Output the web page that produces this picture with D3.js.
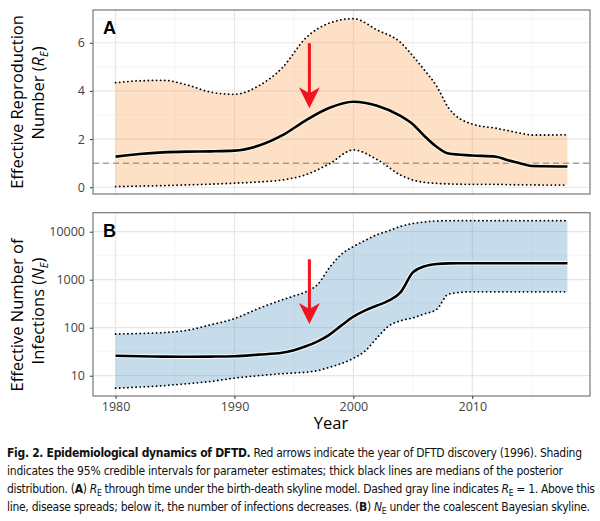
<!DOCTYPE html>
<html>
<head>
<meta charset="utf-8">
<script src="https://cdn.jsdelivr.net/npm/d3@7"></script>
<style>
  body { margin: 0; background: #fff; }
  .tick text { font-family: "Open Sans", sans-serif; font-size: 12.5px; fill: #444; }
  .tick line { stroke: #333; }
  .ytitle { font-family: "Open Sans", sans-serif; font-size: 16.5px; fill: #000; }
  .caption { font-family: "Liberation Sans Narrow", "DejaVu Sans Condensed", sans-serif; font-size: 12px; fill: #111; }
</style>
</head>
<body>
<div id="chart"></div>
<script>
// panel A: R_E (birth-death skyline)
var yearsA = [1980, 1982, 1984, 1986, 1988, 1990, 1992, 1994, 1996, 1998, 2000, 2002, 2004, 2005, 2006, 2007, 2008, 2010, 2012, 2013, 2014, 2015, 2016, 2018];
var reMedian = [1.27, 1.38, 1.45, 1.48, 1.49, 1.52, 1.72, 2.15, 2.78, 3.3, 3.55, 3.38, 2.95, 2.62, 2.12, 1.68, 1.4, 1.32, 1.27, 1.12, 1.0, 0.88, 0.87, 0.86];
var reUpper  = [4.34, 4.42, 4.44, 4.25, 3.95, 3.86, 4.2, 4.95, 6.2, 6.82, 7.0, 6.53, 6.0, 5.45, 4.85, 4.2, 3.3, 2.62, 2.45, 2.35, 2.25, 2.17, 2.17, 2.18];
var reLower  = [0.03, 0.05, 0.07, 0.1, 0.13, 0.17, 0.22, 0.3, 0.52, 0.98, 1.55, 1.15, 0.5, 0.3, 0.2, 0.16, 0.14, 0.12, 0.12, 0.11, 0.1, 0.1, 0.09, 0.09];

// panel B: N_E (coalescent Bayesian skyline)
var yearsB = [1980, 1982, 1984, 1986, 1988, 1990, 1992, 1994, 1995, 1996, 1997, 1998, 1999, 2000, 2001, 2002, 2003, 2004, 2005, 2006, 2007, 2008, 2010, 2014, 2018];
var neMedian = [26, 25.5, 25, 24.8, 25, 25.5, 27.5, 30, 34, 41, 52, 72, 112, 170, 230, 290, 370, 560, 1420, 1900, 2120, 2190, 2200, 2200, 2200];
var neUpper  = [74, 76, 79, 88, 115, 155, 250, 380, 460, 560, 800, 1800, 3400, 4900, 6600, 8700, 10500, 13000, 14800, 16000, 16800, 17000, 17000, 17000, 17000];
var neLower  = [5.5, 5.8, 6.2, 6.8, 7.6, 8.9, 10, 11, 11.4, 11.8, 12.8, 15, 18, 23, 33, 62, 110, 140, 160, 195, 240, 500, 560, 560, 560];

// discovery year arrows (year, from, to)
var arrowYear = 1996.3;
var arrowA = [5.98, 3.28];
var arrowB = [2660, 119];
var threshold = 1;

var xMajor = [1980, 1990, 2000, 2010];
var xMinor = [1985, 1995, 2005, 2015];
var yMajorA = [0, 2, 4, 6];
var yMinorA = [1, 3, 5, 7];
var yMajorB = [10, 100, 1000, 10000];
var yMinorB = [Math.pow(10, 1.5), Math.pow(10, 2.5), Math.pow(10, 3.5)];

var W = 600, H = 521;
var left = 93, right = 590;
var topA = 10, botA = 194, topB = 212.7, botB = 396;

var svg = d3.select("#chart").append("svg")
    .attr("width", W)
    .attr("height", H);

svg.append("rect").attr("width", W).attr("height", H).attr("fill", "#fff");

var x = d3.scaleLinear().domain([1978.1, 2019.9]).range([left, right]);
var yA = d3.scaleLinear().domain([-0.28, 7.36]).range([botA, topA]);
var yB = d3.scaleLog().domain([3.78, 24900]).range([botB, topB]);

function rows(years, med, lo, hi) {
    return years.map(function(y, i) {
        return {year: y, med: med[i], lo: lo[i], hi: hi[i]};
    });
}

function drawPanel(data, y, top, bot, fill, yTicks, yMinor, fmt) {
    var g = svg.append("g");

    // grid
    g.selectAll(".gminx").data(xMinor).enter().append("line")
        .attr("x1", x).attr("x2", x).attr("y1", top).attr("y2", bot)
        .attr("stroke", "#f3f3f3").attr("stroke-width", 0.8);
    g.selectAll(".gminy").data(yMinor).enter().append("line")
        .attr("x1", left).attr("x2", right).attr("y1", y).attr("y2", y)
        .attr("stroke", "#f3f3f3").attr("stroke-width", 0.8);
    g.selectAll(".gmajx").data(xMajor).enter().append("line")
        .attr("x1", x).attr("x2", x).attr("y1", top).attr("y2", bot)
        .attr("stroke", "#e6e6e6").attr("stroke-width", 1.2);
    g.selectAll(".gmajy").data(yTicks).enter().append("line")
        .attr("x1", left).attr("x2", right).attr("y1", y).attr("y2", y)
        .attr("stroke", "#e6e6e6").attr("stroke-width", 1.2);

    // credible interval
    var area = d3.area()
        .x(function(d){ return x(d.year); })
        .y0(function(d){ return y(d.lo); })
        .y1(function(d){ return y(d.hi); })
        .curve(d3.curveMonotoneX);
    g.append("path").datum(data)
        .attr("d", area)
        .attr("fill", fill)
        .attr("fill-opacity", 0.35);

    ["lo", "hi"].forEach(function(k){
        var ln = d3.line()
            .x(function(d){ return x(d.year); })
            .y(function(d){ return y(d[k]); })
            .curve(d3.curveMonotoneX);
        g.append("path").datum(data)
            .attr("d", ln)
            .attr("fill", "none")
            .attr("stroke", "#000")
            .attr("stroke-width", 1.8)
            .attr("stroke-linecap", "round")
            .attr("stroke-dasharray", "0.1,4");
    });

    // axis
    var yAxis = d3.axisLeft(y).tickValues(yTicks).tickSize(3).tickPadding(5).tickFormat(fmt);
    g.append("g")
        .attr("transform", "translate(" + left + ",0)")
        .call(yAxis)
        .call(function(s){ s.select(".domain").remove(); });

    return g;
}

function drawMedian(g, data, y, halo) {
    var ln = d3.line()
        .x(function(d){ return x(d.year); })
        .y(function(d){ return y(d.med); })
        .curve(d3.curveMonotoneX);
    g.append("path").datum(data)
        .attr("d", ln).attr("fill", "none")
        .attr("stroke", halo).attr("stroke-width", 4.6);
    g.append("path").datum(data)
        .attr("d", ln).attr("fill", "none")
        .attr("stroke", "#000").attr("stroke-width", 2.6);
}

function drawArrow(g, y, vals) {
    var ax = x(arrowYear), y0 = y(vals[0]), y1 = y(vals[1]);
    g.append("line")
        .attr("x1", ax).attr("x2", ax)
        .attr("y1", y0).attr("y2", y1 - 12)
        .attr("stroke", "#f0141e").attr("stroke-width", 3);
    g.append("path")
        .attr("d", "M" + ax + "," + y1 + "L" + (ax - 10.5) + "," + (y1 - 21) +
             "L" + ax + "," + (y1 - 15) + "L" + (ax + 10.5) + "," + (y1 - 21) + "Z")
        .attr("fill", "#f0141e");
}

function border(top, bot) {
    svg.append("rect")
        .attr("x", left).attr("y", top)
        .attr("width", right - left).attr("height", bot - top)
        .attr("fill", "none").attr("stroke", "#6b6b6b").attr("stroke-width", 1.1);
}

// ---- panel A
var dataA = rows(yearsA, reMedian, reLower, reUpper);
var gA = drawPanel(dataA, yA, topA, botA, "#f9a65a", yMajorA, yMinorA, d3.format("d"));
gA.append("line")
    .attr("x1", left).attr("x2", right)
    .attr("y1", yA(threshold)).attr("y2", yA(threshold))
    .attr("stroke", "#7a7a7a").attr("stroke-width", 1)
    .attr("stroke-dasharray", "6,4");
drawMedian(gA, dataA, yA, "#fff6dc");
drawArrow(gA, yA, arrowA);
border(topA, botA);

// ---- panel B
var dataB = rows(yearsB, neMedian, neLower, neUpper);
var gB = drawPanel(dataB, yB, topB, botB, "#5b9bc3", yMajorB, yMinorB, d3.format("d"));
drawMedian(gB, dataB, yB, "#f2fbff");
drawArrow(gB, yB, arrowB);
border(topB, botB);

// x axis
var xAxis = d3.axisBottom(x).tickValues(xMajor).tickSize(3).tickPadding(3).tickFormat(d3.format("d"));
svg.append("g")
    .attr("transform", "translate(0," + botB + ")")
    .call(xAxis)
    .call(function(s){ s.select(".domain").remove(); });

// x title
svg.append("text")
    .attr("class", "ytitle")
    .attr("x", 331).attr("y", 429)
    .attr("text-anchor", "middle")
    .text("Year");

// panel letters
[["A", 34], ["B", 237]].forEach(function(p){
    svg.append("text")
        .attr("x", 103).attr("y", p[1])
        .attr("font-family", "Liberation Sans, Arial, sans-serif")
        .attr("font-weight", "bold")
        .attr("font-size", 18)
        .text(p[0]);
});

// rotated y titles
function yTitle(cx, cy, parts) {
    var t = svg.append("text")
        .attr("class", "ytitle")
        .attr("transform", "translate(" + cx + "," + cy + ") rotate(-90)")
        .attr("text-anchor", "middle")
        .attr("dy", "0.35em");
    parts.forEach(function(p){
        var s = t.append("tspan").text(p.t);
        if (p.i) s.attr("font-style", "italic");
        if (p.sub) s.attr("font-size", 11).attr("dy", 4);
        if (p.up) s.attr("dy", -4);
    });
}
yTitle(17, 102, [{t: "Effective Reproduction"}]);
yTitle(38, 93, [{t: "Number ("}, {t: "R", i: true}, {t: "E", i: true, sub: true}, {t: ")", up: true}]);
yTitle(17, 315, [{t: "Effective Number of"}]);
yTitle(38, 311, [{t: "Infections ("}, {t: "N", i: true}, {t: "E", i: true, sub: true}, {t: ")", up: true}]);

// caption
var capLines = [
    {y: 457, w: 575, parts: [{t: "Fig. 2. Epidemiological dynamics of DFTD.", b: true}, {t: " Red arrows indicate the year of DFTD discovery (1996). Shading"}]},
    {y: 475, w: 556, parts: [{t: "indicates the 95% credible intervals for parameter estimates; thick black lines are medians of the posterior"}]},
    {y: 493, w: 588, parts: [{t: "distribution. ("}, {t: "A", b: true}, {t: ") "}, {t: "R", i: true}, {t: "E", sub: true},
        {t: " through time under the birth-death skyline model. Dashed gray line indicates ", up: true}, {t: "R", i: true}, {t: "E", sub: true}, {t: " = 1. Above this", up: true}]},
    {y: 511, w: 583, parts: [{t: "line, disease spreads; below it, the number of infections decreases. ("}, {t: "B", b: true}, {t: ") "}, {t: "N", i: true}, {t: "E", sub: true},
        {t: " under the coalescent Bayesian skyline.", up: true}]}
];
capLines.forEach(function(l){
    var t = svg.append("text")
        .attr("class", "caption")
        .attr("x", 7).attr("y", l.y)
        .attr("textLength", l.w)
        .attr("lengthAdjust", "spacing");
    l.parts.forEach(function(p){
        var s = t.append("tspan").text(p.t);
        if (p.b) s.attr("font-weight", "bold");
        if (p.i) s.attr("font-style", "italic");
        if (p.sub) s.attr("font-size", 8.5).attr("dy", 2.5);
        if (p.up) s.attr("dy", -2.5);
    });
});
</script>
</body>
</html>
